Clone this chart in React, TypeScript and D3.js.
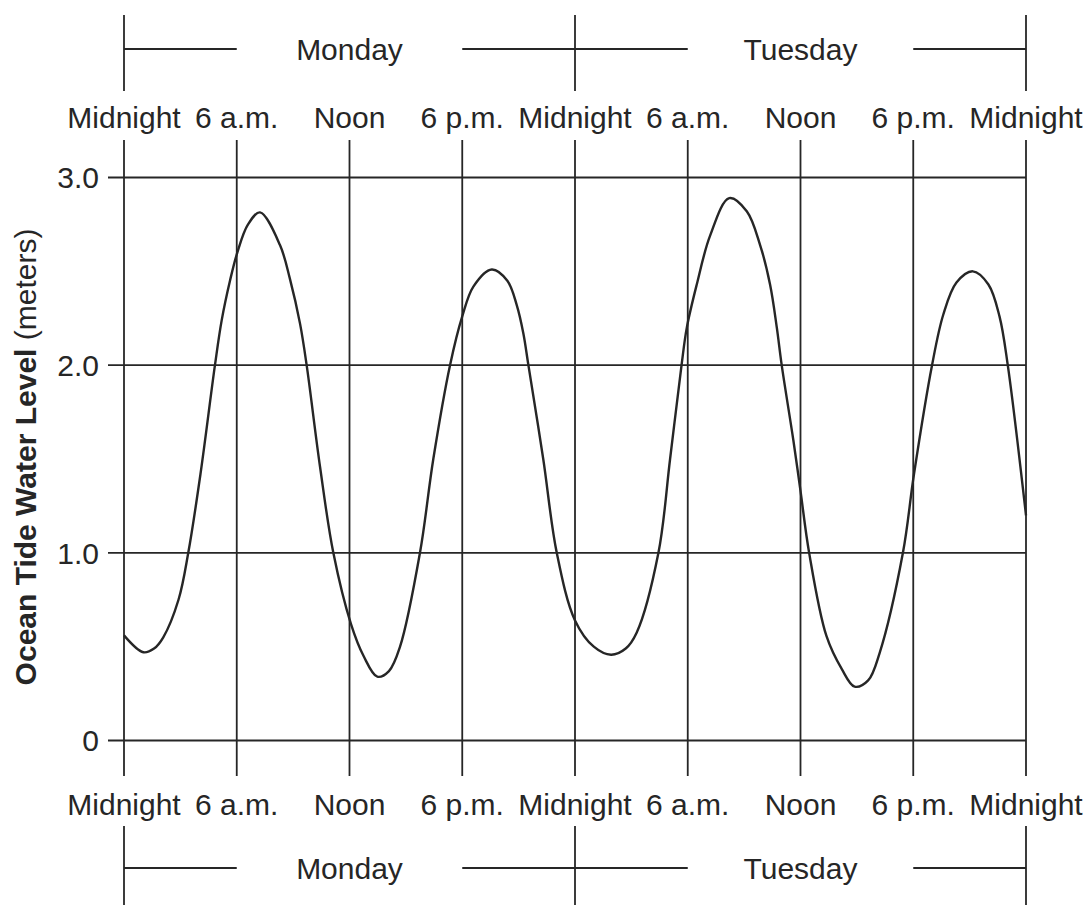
import React from 'react'
import * as d3 from 'd3'

// tide readings: hours since Monday midnight, level in meters
const hours = [
  0, 1.03, 1.6, 2.09, 2.9, 3.42, 4.07, 4.84, 5.2, 5.64, 6.03, 6.6, 7.24, 8.3,
  8.83, 9.37, 9.72, 10.43, 11.14, 12.08, 12.75, 13.48, 14.1, 14.69, 15.75,
  16.46, 17.35, 18.0, 18.6, 19.57, 20.4, 20.9, 21.25, 21.52, 22.31, 23.03,
  24.0, 25.0, 25.92, 26.7, 27.28, 28.44, 29.06, 29.67, 29.95, 30.48, 31.19,
  32.21, 33.14, 33.85, 34.38, 34.74, 35.0, 35.62, 36.0, 36.46, 37.38, 38.2,
  38.88, 39.6, 40.21, 41.45, 42.04, 43.0, 43.6, 44.3, 45.17, 46.0, 46.59,
  47.03, 48,
]
const levels = [
  0.56, 0.47, 0.49, 0.55, 0.75, 1.0, 1.42, 2.0, 2.24, 2.45, 2.6, 2.75, 2.814, 2.64,
  2.46, 2.22, 2.0, 1.46, 1.0, 0.62, 0.45, 0.34, 0.37, 0.5, 1.0,
  1.5, 2.0, 2.26, 2.42, 2.51, 2.45, 2.32, 2.17, 2.0, 1.5, 1.0,
  0.64, 0.5, 0.457, 0.49, 0.574, 1.0, 1.5, 2.0, 2.2, 2.43, 2.69,
  2.89, 2.82, 2.64, 2.43, 2.2, 2.0, 1.6, 1.33, 1.0, 0.557, 0.38,
  0.287, 0.32, 0.466, 1.0, 1.42, 2.0, 2.27, 2.44, 2.5, 2.43, 2.26,
  2.0, 1.2,
]

const timeTicks = [0, 6, 12, 18, 24, 30, 36, 42, 48]
const timeLabels = ['Midnight', '6 a.m.', 'Noon', '6 p.m.', 'Midnight', '6 a.m.', 'Noon', '6 p.m.', 'Midnight']
const levelTicks = [0, 1, 2, 3]
const levelLabels = ['0', '1.0', '2.0', '3.0']
const days = ['Monday', 'Tuesday']
const dayStarts = [0, 24]

const W = 1092
const H = 905
const ink = '#262626'
const font = '"Liberation Sans", Arial, Helvetica, sans-serif'

export default function App() {
  const x = d3.scaleLinear().domain([0, 48]).range([124, 1026])
  const y = d3.scaleLinear().domain([0, 3]).range([740.5, 177.5])

  const pts: [number, number][] = hours.map((h, i) => [h, levels[i]])
  const line = d3.line<[number, number]>()
    .x(d => x(d[0]))
    .y(d => y(d[1]))
    .curve(d3.curveCatmullRom.alpha(0.5))

  const bracket = (yLine: number, y0: number, y1: number, textY: number, key: string) => (
    <g key={key}>
      {[0, 24, 48].map(h => (
        <line key={h} x1={x(h)} x2={x(h)} y1={y0} y2={y1} stroke={ink} strokeWidth={1.8} />
      ))}
      {days.map((d, i) => {
        const s = dayStarts[i]
        return (
          <g key={d}>
            <line x1={x(s)} x2={x(s + 6)} y1={yLine} y2={yLine} stroke={ink} strokeWidth={1.8} />
            <line x1={x(s + 18)} x2={x(s + 24)} y1={yLine} y2={yLine} stroke={ink} strokeWidth={1.8} />
            <text x={x(s + 12)} y={textY} textAnchor="middle" fontSize={30} fill={ink}>{d}</text>
          </g>
        )
      })}
    </g>
  )

  return (
    <div style={{ position: 'absolute', left: 0, top: 0 }}>
      <svg width={W} height={H} style={{ display: 'block', background: '#fff' }} fontFamily={font}>
        {/* horizontal grid */}
        {levelTicks.map((v, i) => (
          <g key={v}>
            <line x1={108} x2={x(48)} y1={y(v)} y2={y(v)} stroke={ink} strokeWidth={1.8} />
            <text x={99} y={y(v)} dy="0.36em" textAnchor="end" fontSize={30} fill={ink}>{levelLabels[i]}</text>
          </g>
        ))}
        {/* vertical grid */}
        {timeTicks.map((h, i) => (
          <g key={h}>
            <line x1={x(h)} x2={x(h)} y1={140} y2={776} stroke={ink} strokeWidth={1.8} />
            <text x={x(h)} y={128} textAnchor="middle" fontSize={30} fill={ink}>{timeLabels[i]}</text>
            <text x={x(h)} y={815} textAnchor="middle" fontSize={30} fill={ink}>{timeLabels[i]}</text>
          </g>
        ))}
        {bracket(49, 15, 91, 60, 'top')}
        {bracket(868, 826, 905, 879, 'bottom')}
        <path d={line(pts) || ''} fill="none" stroke={ink} strokeWidth={2.4} />
        <text transform="translate(36,457) rotate(-90)" textAnchor="middle" fontSize={30} fill={ink}>
          <tspan fontWeight="bold">Ocean Tide Water Level</tspan>
          <tspan> (meters)</tspan>
        </text>
      </svg>
    </div>
  )
}
